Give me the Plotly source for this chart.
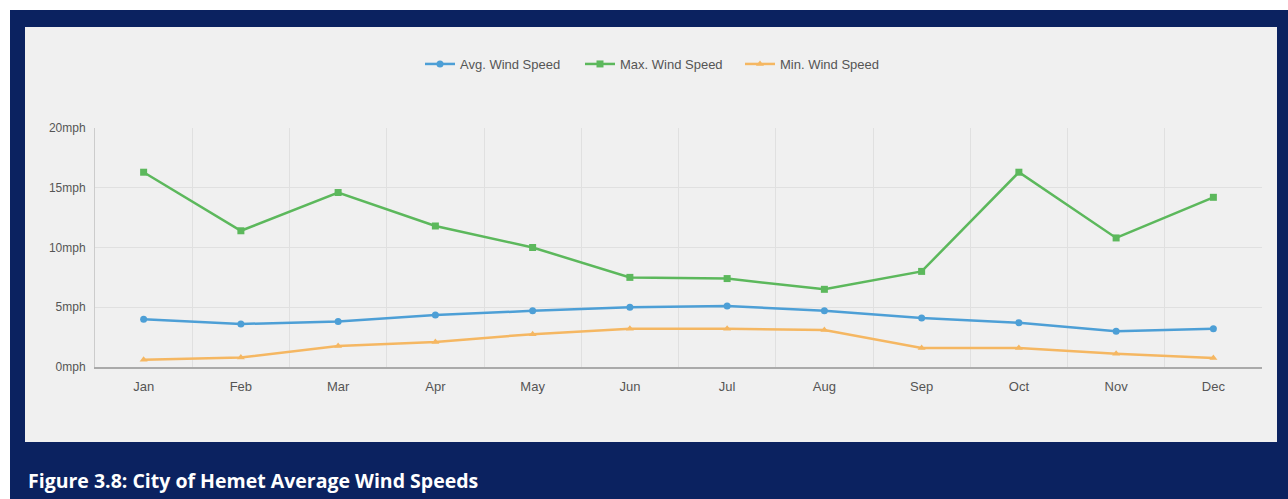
import plotly.graph_objects as go

months = ["Jan", "Feb", "Mar", "Apr", "May", "Jun", "Jul", "Aug", "Sep", "Oct", "Nov", "Dec"]
avg_speed = [4.0, 3.6, 3.8, 4.35, 4.7, 5.0, 5.1, 4.7, 4.1, 3.7, 3.0, 3.2]
max_speed = [16.3, 11.4, 14.6, 11.8, 10.0, 7.5, 7.4, 6.5, 8.0, 16.3, 10.8, 14.2]
min_speed = [0.6, 0.8, 1.75, 2.1, 2.75, 3.2, 3.2, 3.1, 1.6, 1.6, 1.1, 0.75]
y_ticks = [0, 5, 10, 15, 20]
y_tick_labels = ["0mph", "5mph", "10mph", "15mph", "20mph"]
caption = "Figure 3.8: City of Hemet Average Wind Speeds"

W, H = 1288, 499
L, R, T, B = 95, 26, 128, 132
pw, ph = W - L - R, H - T - B

def px(x):
    return (x - L) / pw

def py(y):
    return (H - B - y) / ph

fig = go.Figure()
fig.add_trace(go.Scatter(x=months, y=avg_speed, name="Avg. Wind Speed", mode="lines+markers",
                         line=dict(color="#4d9fd6", width=2.5), marker=dict(symbol="circle", size=7)))
fig.add_trace(go.Scatter(x=months, y=max_speed, name="Max. Wind Speed", mode="lines+markers",
                         line=dict(color="#5cb85c", width=2.5), marker=dict(symbol="square", size=7)))
fig.add_trace(go.Scatter(x=months, y=min_speed, name="Min. Wind Speed", mode="lines+markers",
                         line=dict(color="#f5b762", width=2.5), marker=dict(symbol="triangle-up", size=7)))

fig.update_layout(
    width=W, height=H,
    margin=dict(l=L, r=R, t=T, b=B),
    paper_bgcolor="white", plot_bgcolor="rgba(0,0,0,0)",
    font=dict(family="Liberation Sans Narrow, Liberation Sans, Arial", color="#555555", size=12),
    showlegend=True,
    legend=dict(orientation="h", x=px(420), xanchor="left", y=py(64), yanchor="middle",
                font=dict(size=13, color="#555555"), bgcolor="rgba(0,0,0,0)", itemwidth=30,
                entrywidth=115, entrywidthmode="pixels"),
    shapes=[
        dict(type="rect", xref="paper", yref="paper", x0=px(10), x1=px(1288), y0=py(499), y1=py(10),
             fillcolor="#0b2260", line=dict(width=0), layer="below"),
        dict(type="rect", xref="paper", yref="paper", x0=px(25), x1=px(1277), y0=py(442), y1=py(27),
             fillcolor="#f0f0f0", line=dict(width=0), layer="below"),
    ],
    annotations=[
        dict(text="<b>" + caption + "</b>", xref="paper", yref="paper", x=px(26), y=py(480),
             xanchor="left", yanchor="middle", showarrow=False,
             font=dict(family="Open Sans, Noto Sans, sans-serif", size=19.5, color="white")),
    ],
)
fig.update_xaxes(type="category", range=[-0.5, 11.5], tickson="boundaries", showgrid=True,
                 gridcolor="#e0e0e0", showline=True, linecolor="#aaaaaa", linewidth=2,
                 ticks="", ticklabelstandoff=6, tickfont=dict(size=13, color="#555555"))
fig.update_yaxes(range=[0, 20], tickvals=y_ticks, ticktext=y_tick_labels, showgrid=True,
                 gridcolor="#e0e0e0", showline=True, linecolor="#cccccc", linewidth=1,
                 zeroline=False, ticks="", ticklabelstandoff=6,
                 tickfont=dict(size=12, color="#555555"))

fig.write_html("out.html")
